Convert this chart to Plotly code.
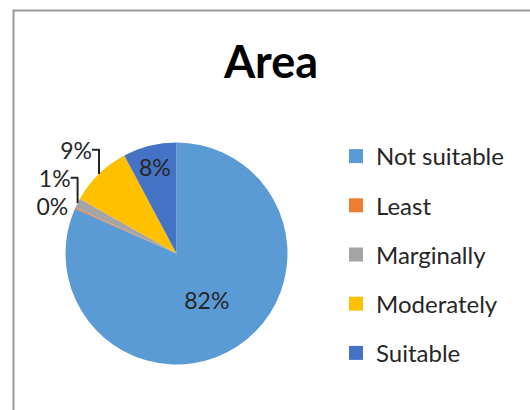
import plotly.graph_objects as go

categories = ["Not suitable", "Least", "Marginally", "Moderately", "Suitable"]
values = [81.6, 0.2, 1.4, 9.0, 7.8]
colors = ["#5B9BD5", "#ED7D31", "#A5A5A5", "#FFC000", "#4472C4"]
text_pos = ["inside", "outside", "outside", "outside", "inside"]

W, H = 530, 410
cx, cy, r = 176.5, 253.5, 111

fig = go.Figure()
fig.add_trace(go.Pie(
    labels=categories, values=values, sort=False, direction="clockwise",
    marker=dict(colors=colors, line=dict(width=0)),
    texttemplate="%{percent:.0%}", textposition=text_pos,
    textfont=dict(family="Lato", size=23, color="#262626"),
    insidetextorientation="horizontal",
    showlegend=False, hoverinfo="label+percent",
    domain=dict(x=[(cx - r) / W, (cx + r) / W], y=[(H - cy - r) / H, (H - cy + r) / H]),
))
for lab, col in zip(categories, colors):
    fig.add_trace(go.Scatter(
        x=[None], y=[None], mode="markers", name=lab, legendgroup=lab,
        marker=dict(symbol="square", size=14, color=col, line=dict(width=0)),
        showlegend=True,
    ))

fig.update_layout(
    width=W, height=H,
    margin=dict(l=0, r=0, t=0, b=0),
    paper_bgcolor="white", plot_bgcolor="white",
    xaxis=dict(visible=False), yaxis=dict(visible=False),
    title=dict(text="<b>Area</b>", x=271 / W, xanchor="center", y=1 - 62 / H, yanchor="middle",
               yref="container", font=dict(family="Lato", size=45, color="#000000")),
    legend=dict(x=336 / W, xanchor="left", y=1 - 134 / H, yanchor="top",
                font=dict(family="Lato", size=24, color="#262626"),
                tracegroupgap=15, itemsizing="trace", bgcolor="rgba(0,0,0,0)"),
    shapes=[dict(type="rect", xref="paper", yref="paper", x0=13.5 / W, x1=1.05, y0=-0.05, y1=1 - 10.5 / H,
                 line=dict(color="#999999", width=2), fillcolor="rgba(0,0,0,0)", layer="below")],
    showlegend=True,
)
fig.write_html("out.html", config={"displayModeBar": False},
               post_script="document.body.style.margin='0';document.body.style.padding='0';")
